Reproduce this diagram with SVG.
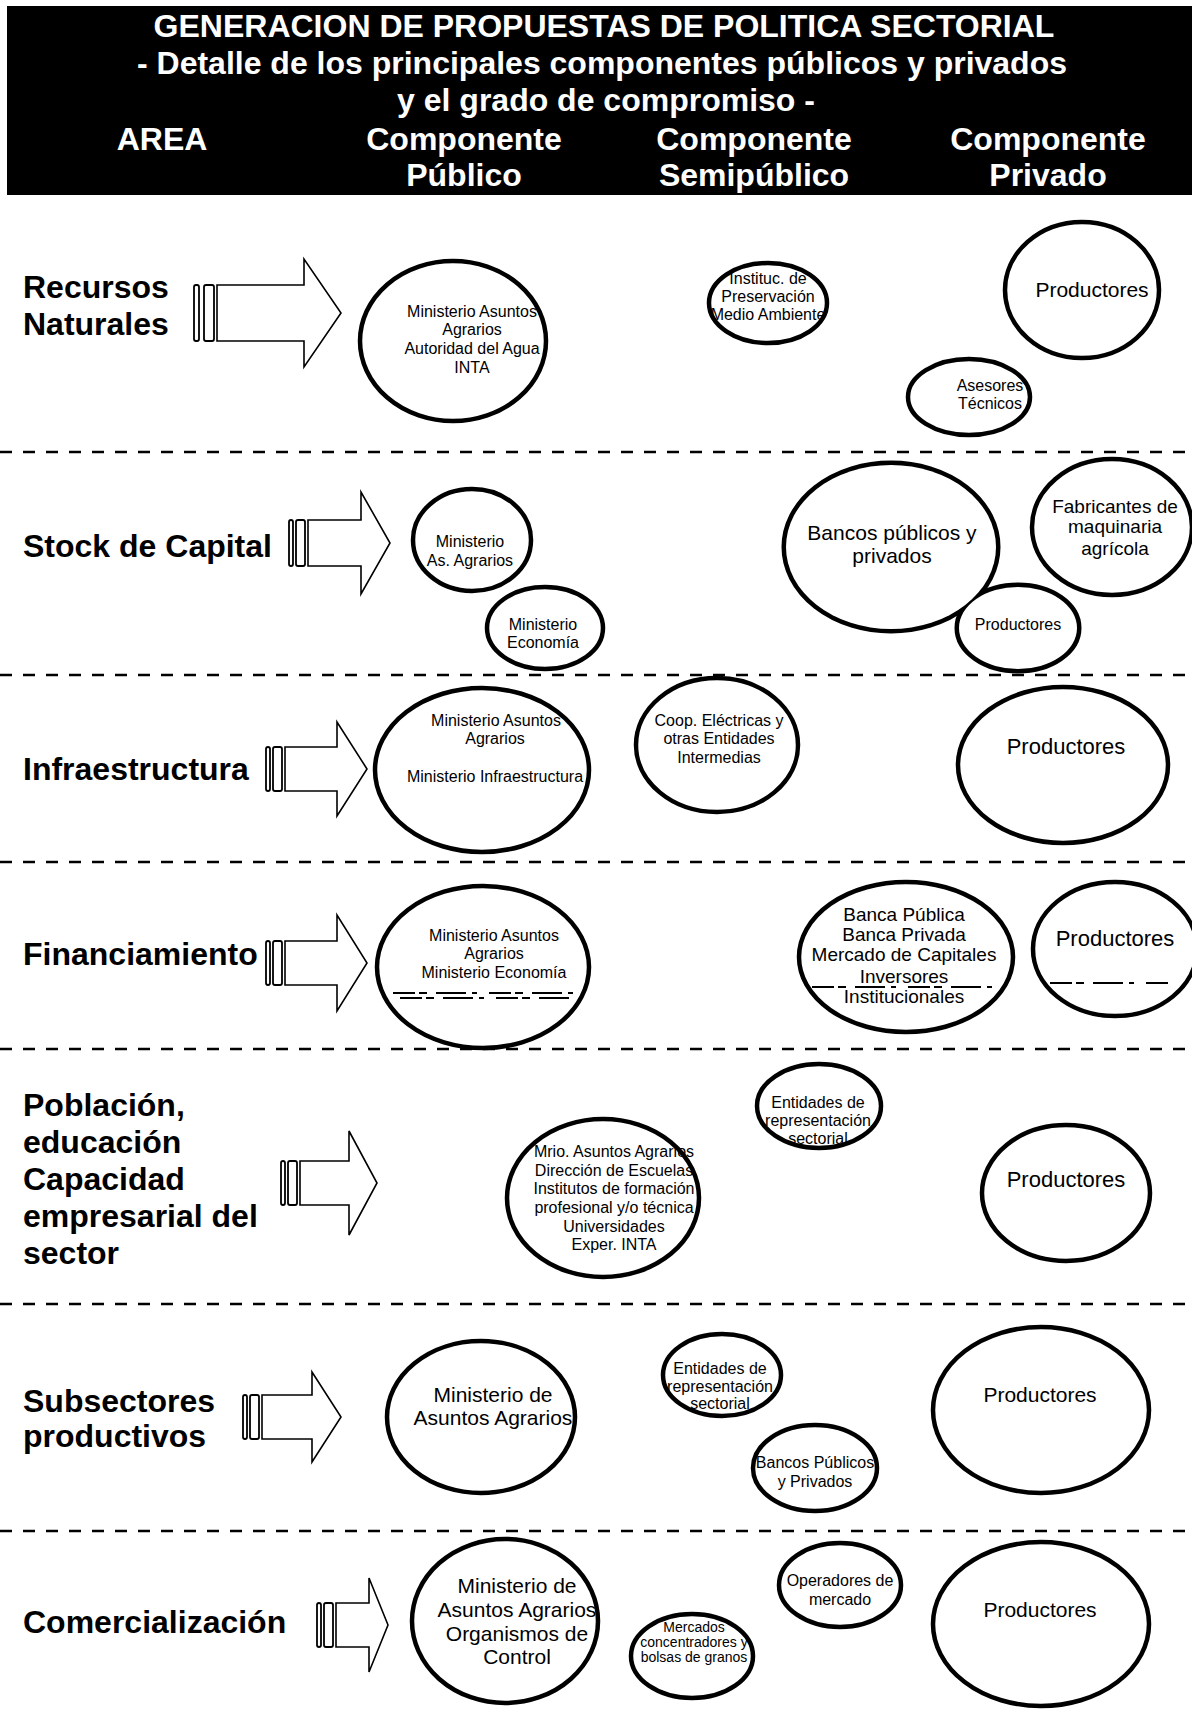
<svg xmlns="http://www.w3.org/2000/svg" width="1192" height="1712" viewBox="0 0 1192 1712">
<style>
.hdr{font-family:"Liberation Sans",Arial,sans-serif;font-weight:bold;font-size:32px;fill:#fff;text-anchor:middle}
.area{font-family:"Liberation Sans",Arial,sans-serif;font-weight:bold;font-size:32px;fill:#000}
.el{fill:#fff;stroke:#000;stroke-width:4.5}
.t{font-family:"Liberation Sans",Arial,sans-serif;fill:#000;text-anchor:middle}
.s16{font-size:16px}
.s14{font-size:14px}
.s19{font-size:19px}
.s21{font-size:21px}
.s22{font-size:22px}
.dash{stroke:#000;stroke-width:2.5;stroke-dasharray:12 11;fill:none}
.arr{fill:#fff;stroke:#000;stroke-width:1.6;stroke-linejoin:miter}
.stripe{fill:#fff;stroke:#000;stroke-width:1.8}
.scan{stroke:#000;stroke-width:2;stroke-dasharray:22 4 8 9 30 6 5 12;fill:none}
</style>
<rect width="1192" height="1712" fill="#fff"/>
<g id="header">
<rect x="7" y="6" width="1185" height="189" fill="#000"/>
<text class="hdr" x="604" y="37">GENERACION DE PROPUESTAS DE POLITICA SECTORIAL</text>
<text class="hdr" x="602" y="74">- Detalle de los principales componentes públicos y privados</text>
<text class="hdr" x="606" y="111">y el grado de compromiso -</text>
<text class="hdr" x="162" y="150">AREA</text>
<text class="hdr" x="464" y="150">Componente</text>
<text class="hdr" x="464" y="186">Público</text>
<text class="hdr" x="754" y="150">Componente</text>
<text class="hdr" x="754" y="186">Semipúblico</text>
<text class="hdr" x="1048" y="150">Componente</text>
<text class="hdr" x="1048" y="186">Privado</text>
</g>
<g id="separators">
<line class="dash" x1="0" y1="452" x2="1192" y2="452"/>
<line class="dash" x1="0" y1="675" x2="1192" y2="675"/>
<line class="dash" x1="0" y1="862" x2="1192" y2="862"/>
<line class="dash" x1="0" y1="1049" x2="1192" y2="1049"/>
<line class="dash" x1="0" y1="1304" x2="1192" y2="1304"/>
<line class="dash" x1="0" y1="1531" x2="1192" y2="1531"/>
</g>
<g id="areas">
<text class="area" x="23" y="298">Recursos</text>
<text class="area" x="23" y="335">Naturales</text>
<text class="area" x="23" y="557">Stock de Capital</text>
<text class="area" x="23" y="780">Infraestructura</text>
<text class="area" x="23" y="965">Financiamiento</text>
<text class="area" x="23" y="1116">Población,</text>
<text class="area" x="23" y="1153">educación</text>
<text class="area" x="23" y="1190">Capacidad</text>
<text class="area" x="23" y="1227">empresarial del</text>
<text class="area" x="23" y="1264">sector</text>
<text class="area" x="23" y="1412">Subsectores</text>
<text class="area" x="23" y="1447">productivos</text>
<text class="area" x="23" y="1633">Comercialización</text>
</g>
<g id="connectors">
<rect class="stripe" x="194" y="285" width="5" height="56" rx="2"/>
<rect class="stripe" x="204" y="285" width="10" height="56" rx="2"/>
<polygon class="arr" points="217,285 304,285 304,259 341,313 304,367 304,341 217,341"/>
<rect class="stripe" x="289" y="520" width="4" height="46" rx="2"/>
<rect class="stripe" x="296" y="520" width="9" height="46" rx="2"/>
<polygon class="arr" points="308,520 361,520 361,492 390,543 361,594 361,566 308,566"/>
<rect class="stripe" x="266" y="747" width="4" height="44" rx="2"/>
<rect class="stripe" x="273" y="747" width="9" height="44" rx="2"/>
<polygon class="arr" points="285,747 337,747 337,722 367,769 337,816 337,791 285,791"/>
<rect class="stripe" x="266" y="941" width="4" height="44" rx="2"/>
<rect class="stripe" x="273" y="941" width="9" height="44" rx="2"/>
<polygon class="arr" points="285,941 337,941 337,915 367,963 337,1011 337,985 285,985"/>
<rect class="stripe" x="281" y="1161" width="4" height="44" rx="2"/>
<rect class="stripe" x="288" y="1161" width="9" height="44" rx="2"/>
<polygon class="arr" points="300,1161 349,1161 349,1131 377,1183 349,1235 349,1205 300,1205"/>
<rect class="stripe" x="243" y="1395" width="4" height="44" rx="2"/>
<rect class="stripe" x="250" y="1395" width="9" height="44" rx="2"/>
<polygon class="arr" points="262,1395 312,1395 312,1372 341,1417 312,1462 312,1439 262,1439"/>
<rect class="stripe" x="317" y="1603" width="4" height="44" rx="2"/>
<rect class="stripe" x="324" y="1603" width="9" height="44" rx="2"/>
<polygon class="arr" points="336,1603 369,1603 369,1578 388,1625 369,1672 369,1647 336,1647"/>
</g>
<g id="n1-publico">
<ellipse class="el" cx="453" cy="341" rx="93" ry="80"/>
<text class="t s16"><tspan x="472" y="317">Ministerio Asuntos</tspan><tspan x="472" y="335">Agrarios</tspan><tspan x="472" y="354">Autoridad del Agua</tspan><tspan x="472" y="373">INTA</tspan></text>
</g>
<g id="n1-instituc">
<ellipse class="el" cx="768" cy="303" rx="59" ry="40"/>
<text class="t s16"><tspan x="768" y="284">Instituc. de</tspan><tspan x="768" y="302">Preservación</tspan><tspan x="768" y="320">Medio Ambiente</tspan></text>
</g>
<g id="n1-productores">
<ellipse class="el" cx="1082" cy="290" rx="77" ry="68"/>
<text class="t s21" x="1092" y="297">Productores</text>
</g>
<g id="n1-asesores">
<ellipse class="el" cx="969" cy="397" rx="61" ry="38"/>
<text class="t s16"><tspan x="990" y="391">Asesores</tspan><tspan x="990" y="409">Técnicos</tspan></text>
</g>
<g id="n2-ministerio-agrarios">
<ellipse class="el" cx="472" cy="540" rx="59" ry="51"/>
<text class="t s16"><tspan x="470" y="547">Ministerio</tspan><tspan x="470" y="566">As. Agrarios</tspan></text>
</g>
<g id="n2-ministerio-economia">
<ellipse class="el" cx="545" cy="628" rx="58" ry="41"/>
<text class="t s16"><tspan x="543" y="630">Ministerio</tspan><tspan x="543" y="648">Economía</tspan></text>
</g>
<g id="n2-bancos-productores">
<ellipse cx="891" cy="547" rx="105" ry="82" fill="#000" stroke="#000" stroke-width="9"/>
<ellipse cx="1018" cy="628" rx="59" ry="41" fill="#000" stroke="#000" stroke-width="9"/>
<ellipse cx="891" cy="547" rx="105" ry="82" fill="#fff"/>
<ellipse cx="1018" cy="628" rx="59" ry="41" fill="#fff"/>
<text class="t s21"><tspan x="892" y="540">Bancos públicos y</tspan><tspan x="892" y="563">privados</tspan></text>
<text class="t s16" x="1018" y="630">Productores</text>
</g>
<g id="n2-fabricantes">
<ellipse class="el" cx="1112" cy="527" rx="80" ry="68"/>
<text class="t s19"><tspan x="1115" y="513">Fabricantes de</tspan><tspan x="1115" y="533">maquinaria</tspan><tspan x="1115" y="555">agrícola</tspan></text>
</g>
<g id="n3-ministerios">
<ellipse class="el" cx="482" cy="770" rx="107" ry="82"/>
<text class="t s16"><tspan x="496" y="726">Ministerio Asuntos</tspan><tspan x="495" y="744">Agrarios</tspan><tspan x="495" y="782">Ministerio Infraestructura</tspan></text>
</g>
<g id="n3-coop">
<ellipse class="el" cx="717" cy="745" rx="81" ry="67"/>
<text class="t s16"><tspan x="719" y="726">Coop. Eléctricas y</tspan><tspan x="719" y="744">otras Entidades</tspan><tspan x="719" y="763">Intermedias</tspan></text>
</g>
<g id="n3-productores">
<ellipse class="el" cx="1063" cy="765" rx="105" ry="78"/>
<text class="t s22" x="1066" y="754">Productores</text>
</g>
<g id="n4-ministerios">
<ellipse class="el" cx="483" cy="967" rx="106" ry="81"/>
<text class="t s16"><tspan x="494" y="941">Ministerio  Asuntos</tspan><tspan x="494" y="959">Agrarios</tspan><tspan x="494" y="978">Ministerio  Economía</tspan></text>
</g>
<g id="n4-banca">
<ellipse class="el" cx="906" cy="957" rx="107" ry="75"/>
<text class="t s19"><tspan x="904" y="921">Banca Pública</tspan><tspan x="904" y="941">Banca Privada</tspan><tspan x="904" y="961">Mercado de Capitales</tspan><tspan x="904" y="983">Inversores</tspan><tspan x="904" y="1003">Institucionales</tspan></text>
</g>
<g id="n4-productores">
<ellipse class="el" cx="1115" cy="949" rx="82" ry="67"/>
<text class="t s22" x="1115" y="946">Productores</text>
</g>
<g id="scan-marks">
<line class="scan" x1="393" y1="993" x2="585" y2="993"/>
<line class="scan" x1="400" y1="998" x2="575" y2="998" stroke-width="1.5"/>
<line class="scan" x1="812" y1="987" x2="992" y2="987"/>
<line class="scan" x1="1050" y1="983" x2="1172" y2="983"/>
</g>
<g id="n5-mrio">
<ellipse class="el" cx="603" cy="1198" rx="96" ry="79"/>
<text class="t s16"><tspan x="614" y="1157">Mrio. Asuntos Agrarios</tspan><tspan x="614" y="1176">Dirección de Escuelas</tspan><tspan x="614" y="1194">Institutos de formación</tspan><tspan x="614" y="1213">profesional y/o técnica</tspan><tspan x="614" y="1232">Universidades</tspan><tspan x="614" y="1250">Exper. INTA</tspan></text>
</g>
<g id="n5-entidades">
<ellipse class="el" cx="819" cy="1106" rx="62" ry="42"/>
<text class="t s16"><tspan x="818" y="1108">Entidades de</tspan><tspan x="818" y="1126">representación</tspan><tspan x="818" y="1144">sectorial</tspan></text>
</g>
<g id="n5-productores">
<ellipse class="el" cx="1066" cy="1193" rx="84" ry="68"/>
<text class="t s22" x="1066" y="1187">Productores</text>
</g>
<g id="n6-ministerio">
<ellipse class="el" cx="481" cy="1417" rx="94" ry="76"/>
<text class="t s21"><tspan x="493" y="1402">Ministerio de</tspan><tspan x="493" y="1425">Asuntos Agrarios</tspan></text>
</g>
<g id="n6-entidades">
<ellipse class="el" cx="722" cy="1375" rx="59" ry="41"/>
<text class="t s16"><tspan x="720" y="1374">Entidades de</tspan><tspan x="720" y="1392">representación</tspan><tspan x="720" y="1409">sectorial</tspan></text>
</g>
<g id="n6-bancos">
<ellipse class="el" cx="815" cy="1468" rx="62" ry="43"/>
<text class="t s16"><tspan x="815" y="1468">Bancos Públicos</tspan><tspan x="815" y="1487">y Privados</tspan></text>
</g>
<g id="n6-productores">
<ellipse class="el" cx="1041" cy="1410" rx="108" ry="83"/>
<text class="t s21" x="1040" y="1402">Productores</text>
</g>
<g id="n7-ministerio">
<ellipse class="el" cx="505" cy="1621" rx="93" ry="82"/>
<text class="t s21"><tspan x="517" y="1593">Ministerio de</tspan><tspan x="517" y="1617">Asuntos Agrarios</tspan><tspan x="517" y="1641">Organismos de</tspan><tspan x="517" y="1664">Control</tspan></text>
</g>
<g id="n7-mercados">
<ellipse class="el" cx="692" cy="1656" rx="61" ry="42"/>
<text class="t s14"><tspan x="694" y="1632">Mercados</tspan><tspan x="694" y="1647">concentradores y</tspan><tspan x="694" y="1662">bolsas de granos</tspan></text>
</g>
<g id="n7-operadores">
<ellipse class="el" cx="840" cy="1585" rx="61" ry="42"/>
<text class="t s16"><tspan x="840" y="1586">Operadores de</tspan><tspan x="840" y="1605">mercado</tspan></text>
</g>
<g id="n7-productores">
<ellipse class="el" cx="1041" cy="1624" rx="108" ry="82"/>
<text class="t s21" x="1040" y="1617">Productores</text>
</g>
</svg>
